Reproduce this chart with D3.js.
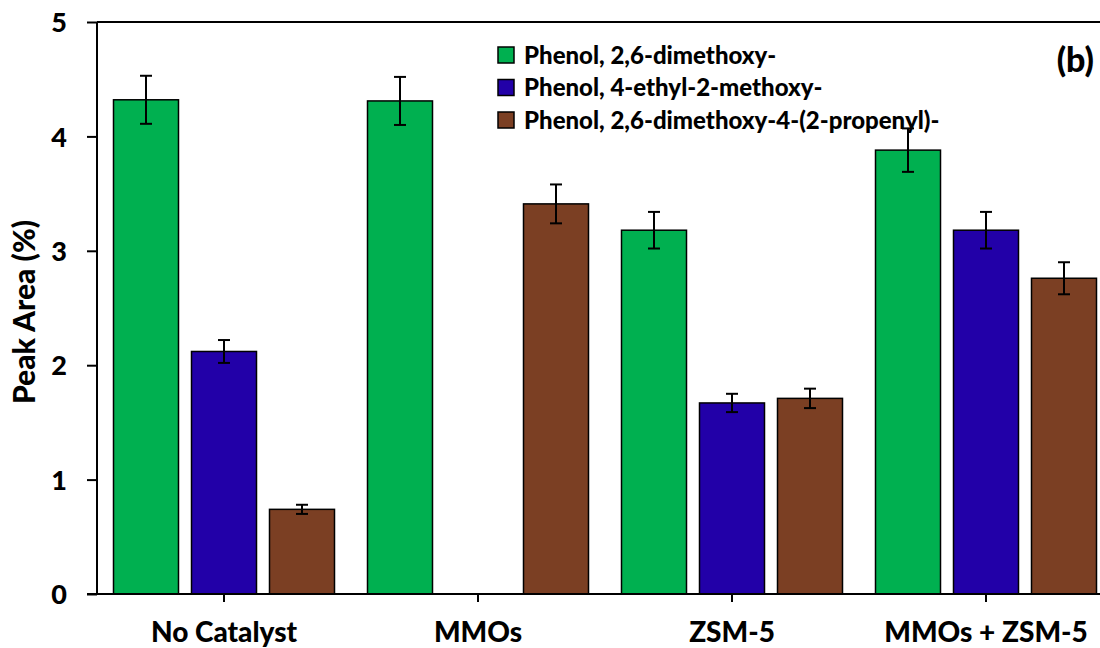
<!DOCTYPE html>
<html>
<head>
<meta charset="utf-8">
<script src="https://cdn.jsdelivr.net/npm/d3@7"></script>
<style>
  body { margin: 0; background: #fff; }
  text { font-family: Lato, "Open Sans", sans-serif; font-weight: 900; fill: #000; }
</style>
</head>
<body>
<div id="main"></div>
<script>
// --- chart data
const categories = ['No Catalyst', 'MMOs', 'ZSM-5', 'MMOs + ZSM-5'];
const seriesNames = [
  'Phenol, 2,6-dimethoxy-',
  'Phenol, 4-ethyl-2-methoxy-',
  'Phenol, 2,6-dimethoxy-4-(2-propenyl)-'
];
const dimethoxy = [4.32, 4.31, 3.18, 3.88];
const dimethoxyErr = [0.21, 0.21, 0.16, 0.19];
const ethylMethoxy = [2.12, 0, 1.67, 3.18];
const ethylMethoxyErr = [0.10, 0, 0.08, 0.16];
const propenyl = [0.74, 3.41, 1.71, 2.76];
const propenylErr = [0.04, 0.17, 0.085, 0.14];
const yTicks = [0, 1, 2, 3, 4, 5];

const colors = ['#00b050', '#2200a8', '#7b3f23'];
const values = [dimethoxy, ethylMethoxy, propenyl];
const errors = [dimethoxyErr, ethylMethoxyErr, propenylErr];

const width = 1100, height = 648;
const plot = { left: 97, right: 1113, top: 22, bottom: 594 };

const svg = d3.select('#main')
  .append('svg')
  .attr('width', width)
  .attr('height', height);

const xScale = d3.scaleBand()
  .domain(categories)
  .range([plot.left, plot.right]);

const groupWidth = 221;
const xInner = d3.scaleBand()
  .domain(d3.range(seriesNames.length))
  .range([(xScale.bandwidth() - groupWidth) / 2, (xScale.bandwidth() + groupWidth) / 2])
  .paddingInner(13 / 78);

const yScale = d3.scaleLinear()
  .domain([0, 5])
  .range([plot.bottom, plot.top]);

// flatten into bar records
const bars = [];
categories.forEach((c, i) => {
  seriesNames.forEach((s, j) => {
    bars.push({ cat: c, s: j, v: values[j][i], e: errors[j][i] });
  });
});

// bars
svg.append('g')
  .selectAll('rect')
  .data(bars.filter(d => d.v > 0))
  .enter()
  .append('rect')
  .attr('x', d => xScale(d.cat) + xInner(d.s))
  .attr('width', xInner.bandwidth())
  .attr('y', d => yScale(d.v))
  .attr('height', d => yScale(0) - yScale(d.v))
  .attr('fill', d => colors[d.s])
  .attr('stroke', '#000')
  .attr('stroke-width', 1.5);

// error bars
const errG = svg.append('g')
  .attr('stroke', '#000')
  .attr('stroke-width', 2);
const capW = 6;
bars.filter(d => d.e > 0).forEach(d => {
  const cx = xScale(d.cat) + xInner(d.s) + xInner.bandwidth() / 2;
  const y1 = yScale(d.v + d.e), y2 = yScale(d.v - d.e);
  errG.append('line').attr('x1', cx).attr('x2', cx).attr('y1', y1).attr('y2', y2);
  errG.append('line').attr('x1', cx - capW).attr('x2', cx + capW).attr('y1', y1).attr('y2', y1);
  errG.append('line').attr('x1', cx - capW).attr('x2', cx + capW).attr('y1', y2).attr('y2', y2);
});

// y axis
const yAxis = svg.append('g')
  .attr('transform', `translate(${plot.left}, 0)`)
  .call(d3.axisLeft(yScale).tickValues(yTicks).tickSize(10).tickPadding(20).tickFormat(d3.format('d')));
yAxis.select('.domain').attr('stroke-width', 2).attr('d', `M0,${plot.top}V${plot.bottom}`);
yAxis.selectAll('.tick line').attr('stroke-width', 2);
yAxis.selectAll('.tick text').style('font-size', '27px').attr('dy', '0.36em');

// top frame line
svg.append('line')
  .attr('x1', plot.left).attr('x2', plot.right)
  .attr('y1', plot.top).attr('y2', plot.top)
  .attr('stroke', '#000').attr('stroke-width', 2);

// x axis
const xAxis = svg.append('g')
  .attr('transform', `translate(0, ${plot.bottom})`)
  .call(d3.axisBottom(xScale).tickSize(8).tickPadding(20));
xAxis.select('.domain').attr('stroke-width', 2).attr('d', `M${plot.left - 10},0H${plot.right}`);
xAxis.selectAll('.tick line').attr('stroke-width', 2);
xAxis.selectAll('.tick text').style('font-size', '28px');

// y axis title
svg.append('text')
  .attr('transform', `translate(35, 312) rotate(-90)`)
  .attr('text-anchor', 'middle')
  .style('font-size', '30px')
  .text('Peak Area (%)');

// legend
const legend = svg.append('g')
  .attr('transform', 'translate(498, 47)');
seriesNames.forEach((name, i) => {
  const row = legend.append('g').attr('transform', `translate(0, ${i * 32.5})`);
  row.append('rect')
    .attr('width', 16).attr('height', 16)
    .attr('fill', colors[i])
    .attr('stroke', '#000').attr('stroke-width', 1.5);
  row.append('text')
    .attr('x', 26).attr('y', 8)
    .attr('dy', '0.36em')
    .style('font-size', '24px')
    .text(name);
});

// panel label
svg.append('text')
  .attr('x', 1094).attr('y', 72)
  .attr('text-anchor', 'end')
  .style('font-size', '34px')
  .text('(b)');
</script>
</body>
</html>
